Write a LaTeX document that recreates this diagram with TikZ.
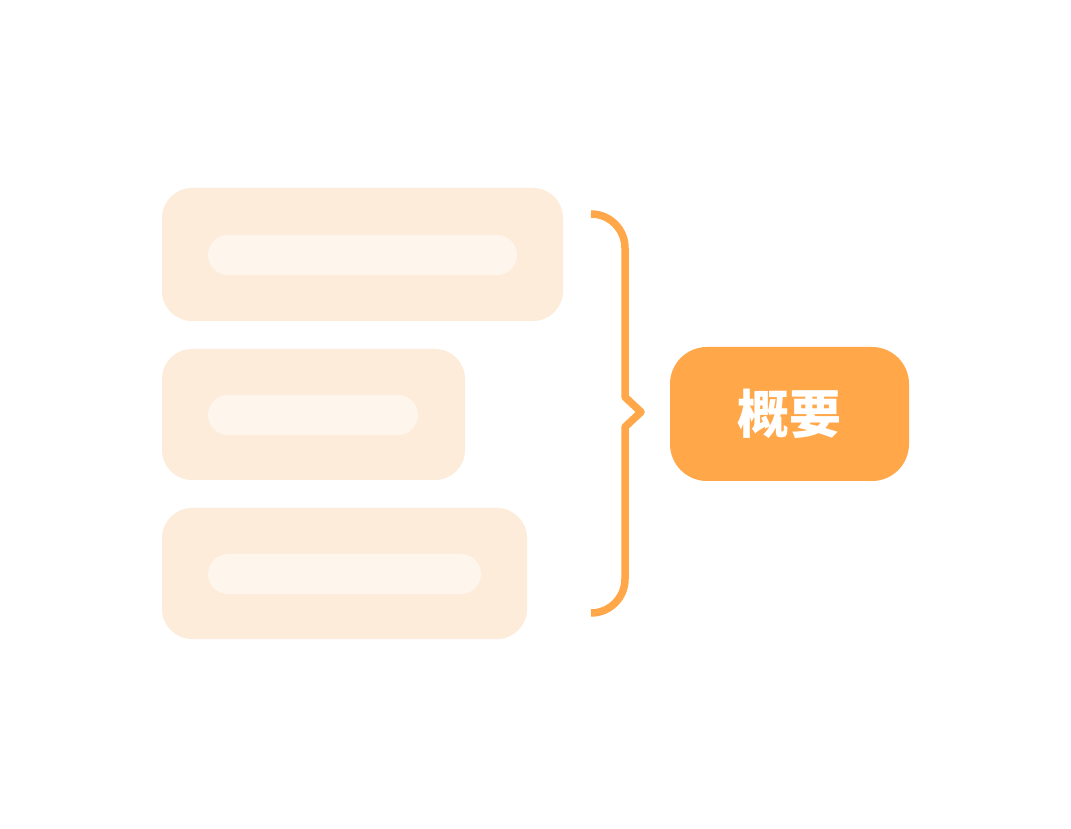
\documentclass[tikz,border=0pt]{standalone}
\usepackage{fontspec}
\newfontfamily\cjk{Noto Sans CJK SC}
\definecolor{accent}{HTML}{FFA749}
\definecolor{paleBox}{HTML}{FDECDA}
\definecolor{paleBar}{HTML}{FEF6EC}
\begin{document}
\begin{tikzpicture}[x=1pt,y=1pt,
  itembox/.style={fill=paleBox, draw=none, rounded corners=30pt, inner sep=0pt, outer sep=0pt},
  itembar/.style={fill=paleBar, draw=none, rounded corners=20pt, inner sep=0pt, outer sep=0pt, minimum height=40pt},
  sumbox/.style={fill=accent, draw=none, rounded corners=37pt, inner sep=0pt, outer sep=0pt,
    minimum width=239pt, minimum height=134pt, text=white, font=\cjk\bfseries\fontsize{52}{52}\selectfont},
  bracestyle/.style={draw=accent, line width=7.5pt, line join=round}
]
\useasboundingbox (0,0) rectangle (1071,828);
\fill[white] (0,0) rectangle (1071,828);
% item boxes
\node[itembox, minimum width=401pt, minimum height=133pt] (b1) at (362.5,573.5) {};
\node[itembar, minimum width=309pt] (r1) at (362.5,573) {};
\node[itembox, minimum width=303pt, minimum height=131pt] (b2) at (313.5,413.5) {};
\node[itembar, minimum width=210pt] (r2) at (313,413) {};
\node[itembox, minimum width=365pt, minimum height=131pt] (b3) at (344.5,254.5) {};
\node[itembar, minimum width=273pt] (r3) at (344.5,254) {};
% summary
\node[sumbox] (sum) at (789.5,414) {概要};
% brace
\coordinate (btop) at (591,614);
\coordinate (bbot) at (591,215);
\draw[bracestyle] (btop) arc[start angle=90, end angle=0, radius=34pt]
  -- (625,431) -- (641,416) -- (625,401) -- (625,249)
  arc[start angle=0, end angle=-90, radius=34pt];
\end{tikzpicture}
\end{document}
